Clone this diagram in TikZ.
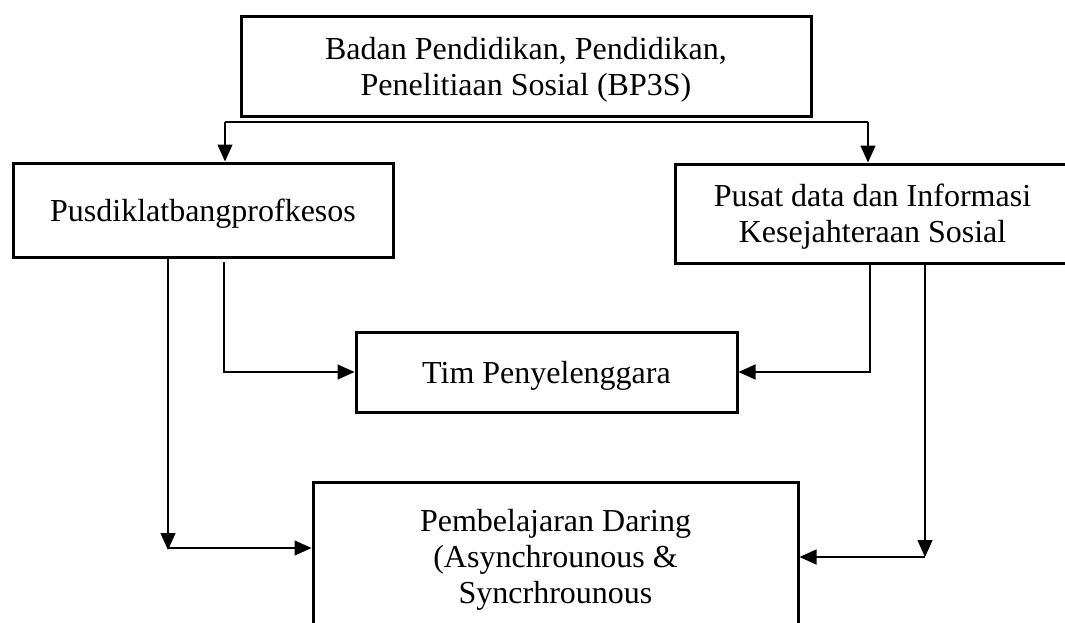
\documentclass[tikz,border=0pt]{standalone}
\usepackage{fontspec}
\setmainfont{Liberation Serif}
\usetikzlibrary{arrows.meta}

\begin{document}
\begin{tikzpicture}[x=1pt,y=-1pt,
    every node/.style={font=\fontsize{32}{36}\selectfont},
    kotak/.style={draw=black, line width=3pt, inner sep=0pt, align=center},
    turun/.style={text depth=0pt},
    garis/.style={draw=black, line width=1.3pt},
    panah/.style={garis, -{Triangle[length=17pt,width=15pt]}}]
            \useasboundingbox (0,0) rectangle (1065,622);
            \clip (0,0) rectangle (1065,622);
            \node [kotak, turun, minimum width=570, minimum height=100] (bp3s) at (526,66) {Badan Pendidikan, Pendidikan,\\Penelitiaan Sosial (BP3S)};
            \node [kotak, turun, minimum width=380, minimum height=94] (pusdik) at (203,210) {Pusdiklatbangprofkesos};
            \node [kotak, turun, minimum width=395, minimum height=99] (pusdatin) at (872.5,213.5) {Pusat data dan Informasi\\Kesejahteraan Sosial};
            \node [kotak, turun, minimum width=381, minimum height=80] (tim) at (546.5,372) {Tim Penyelenggara};
            \node [kotak, minimum width=485, minimum height=156] (daring) at (555.5,560) {Pembelajaran Daring\\(Asynchrounous \&\\Syncrhrounous};
            \coordinate (kiri) at (225,122);
            \coordinate (kanan) at (868,122);
            \draw [garis] (kiri) -- (kanan);
            \draw [panah] (kiri) -- (kiri |- pusdik.north);
            \draw [panah] (kanan) -- (kanan |- pusdatin.north);
            \coordinate (kiri1) at (168,550);
            \coordinate (kiri2) at (168,548);
            \draw [panah] (kiri1 |- pusdik.south) -- (kiri1);
            \draw [panah] (kiri2) -- (kiri2 -| daring.west);
            \coordinate (kiri3) at (224,262);
            \draw [panah] (kiri3) |- (tim.west);
            \coordinate (kanan1) at (870,263);
            \draw [panah] (kanan1) |- (tim.east);
            \coordinate (kanan2) at (925,557);
            \draw [panah] (kanan2 |- pusdatin.south) -- (kanan2);
            \draw [panah] (kanan2) -- (kanan2 -| daring.east);
\end{tikzpicture}
\end{document}
